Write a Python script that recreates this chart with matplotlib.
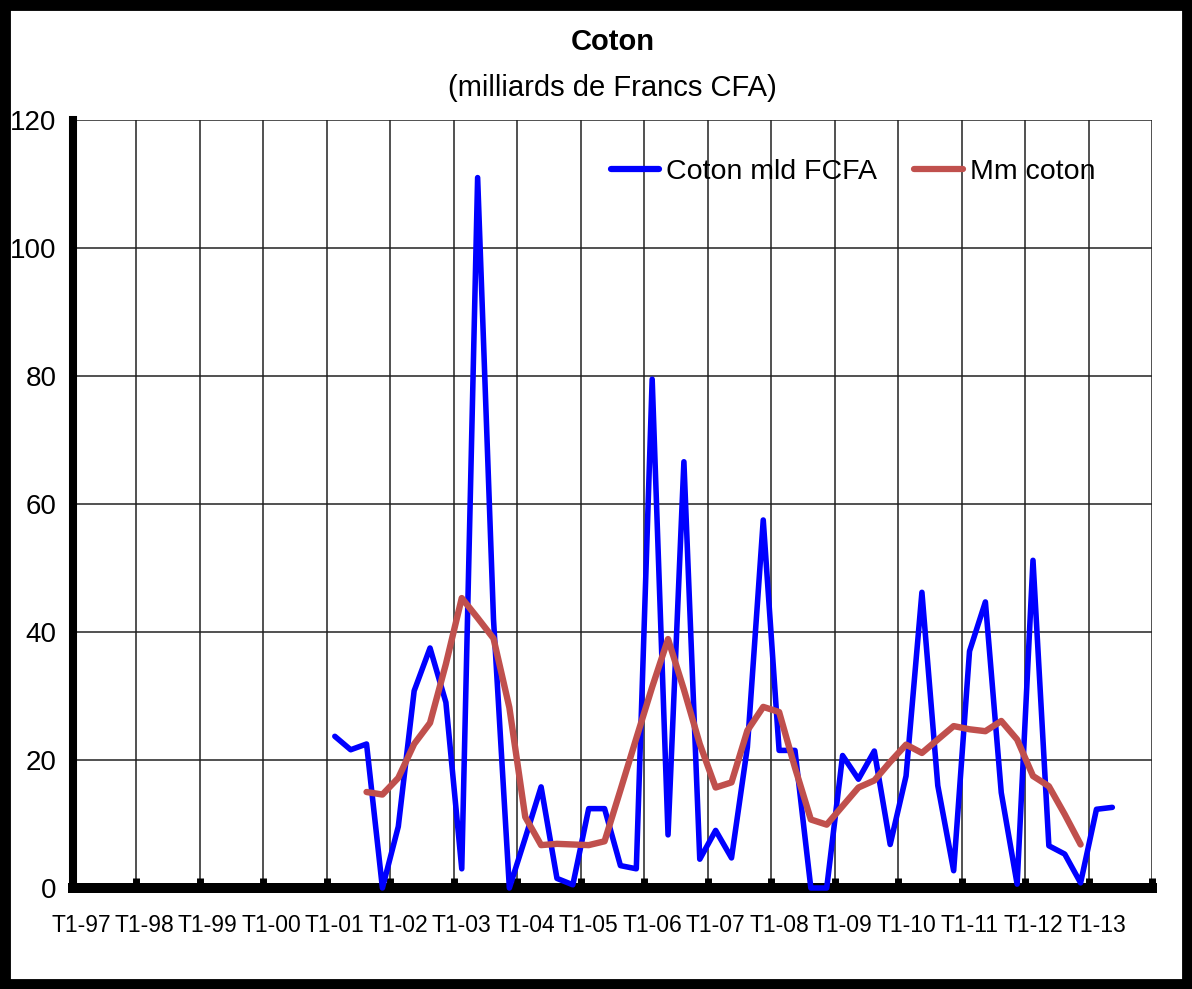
import numpy as np
import matplotlib.pyplot as plt
from matplotlib.patches import Rectangle

plt.rcParams['font.family'] = ['Liberation Sans Narrow', 'Liberation Sans', 'DejaVu Sans']

# axe des trimestres : T1-97 ... T4-13
annees = ['97', '98', '99', '00', '01', '02', '03', '04', '05', '06',
          '07', '08', '09', '10', '11', '12', '13']
etiquettes = ['T1-' + a for a in annees]
nb_trim = 68

# Coton en milliards FCFA, a partir de T1-01
debut_coton = 16
coton = [23.7, 21.6, 22.5, 0.0, 9.6, 30.8, 37.5, 29.0, 3.0, 111.0,
         42.0, 0.0, 7.8, 15.8, 1.5, 0.5, 12.4, 12.4, 3.5, 3.0,
         79.5, 8.3, 66.6, 4.5, 9.0, 4.7, 22.0, 57.5, 21.5, 21.5,
         0.0, 0.0, 20.7, 17.0, 21.4, 6.8, 17.5, 46.2, 16.0, 2.7,
         37.0, 44.7, 14.9, 0.6, 51.2, 6.6, 5.3, 0.8, 12.3, 12.6]

# moyenne mobile, a partir de T3-01
debut_mm = 18
mm_coton = [15.0, 14.6, 17.2, 22.5, 25.8, 35.0, 45.3, 42.2, 39.0, 28.2,
            11.1, 6.7, 6.9, 6.8, 6.7, 7.3, 15.3, 23.4, 31.4, 38.9,
            31.0, 22.5, 15.7, 16.5, 24.6, 28.3, 27.5, 18.8, 10.7, 9.9,
            12.8, 15.7, 16.8, 19.7, 22.4, 21.1, 23.2, 25.3, 24.8, 24.5,
            26.1, 23.2, 17.5, 15.9, 11.5, 6.8]

x_coton = np.arange(debut_coton, debut_coton + len(coton))
x_mm = np.arange(debut_mm, debut_mm + len(mm_coton))

fig = plt.figure(figsize=(11.92, 9.89), dpi=100)
ax = fig.add_axes([73 / 1192, 1 - 888 / 989, 1079 / 1192, 768 / 989])

ax.plot(x_coton, coton, color='#0000ff', lw=4.0, label='Coton mld FCFA',
        solid_joinstyle='round', solid_capstyle='round', clip_on=False,
        zorder=3)
ax.plot(x_mm, mm_coton, color='#c0504d', lw=4.6, label='Mm coton',
        solid_joinstyle='round', solid_capstyle='round', zorder=4)

ax.set_xlim(-0.5, nb_trim - 0.5)
ax.set_ylim(0, 120)

# labels au centre du trimestre, grille sur les limites d'annee
ax.set_xticks(np.arange(0, nb_trim, 4))
ax.set_xticklabels(etiquettes)
ax.set_xticks(np.arange(-0.5, nb_trim, 4), minor=True)
ax.tick_params(axis='x', which='major', length=0, pad=19, labelsize=16.5)
ax.tick_params(axis='x', which='minor', direction='in', length=7, width=5,
               color='black')
ax.set_yticks(np.arange(0, 121, 20))
ax.tick_params(axis='y', length=0, pad=12, labelsize=20)

ax.grid(True, which='minor', axis='x', color='#222222', lw=1.1)
ax.grid(True, which='major', axis='y', color='#222222', lw=1.1)
ax.set_axisbelow(True)

for s in ['top', 'right']:
    ax.spines[s].set_visible(False)
ax.spines['left'].set_linewidth(5.8)
ax.spines['bottom'].set_linewidth(7.2)
ax.spines['bottom'].set_capstyle('projecting')

leg = ax.legend(loc='center left', bbox_to_anchor=(0.488, 0.932), ncol=2,
                frameon=False, fontsize=20.5, handlelength=1.7,
                handletextpad=0.25, columnspacing=1.3, borderaxespad=0)
for ligne in leg.get_lines():
    ligne.set_linewidth(4.5)

cx = (73 + 1152) / 2 / 1192
fig.text(cx, 1 - 42 / 989, 'Coton', ha='center', va='center',
         fontsize=21, fontweight='bold')
fig.text(cx, 1 - 88 / 989, '(milliards de Francs CFA)', ha='center',
         va='center', fontsize=21)

fig.patches.append(Rectangle((0, 0), 1, 1, transform=fig.transFigure,
                             fill=False, edgecolor='black', lw=15))

fig.savefig('out.png', dpi=100)
